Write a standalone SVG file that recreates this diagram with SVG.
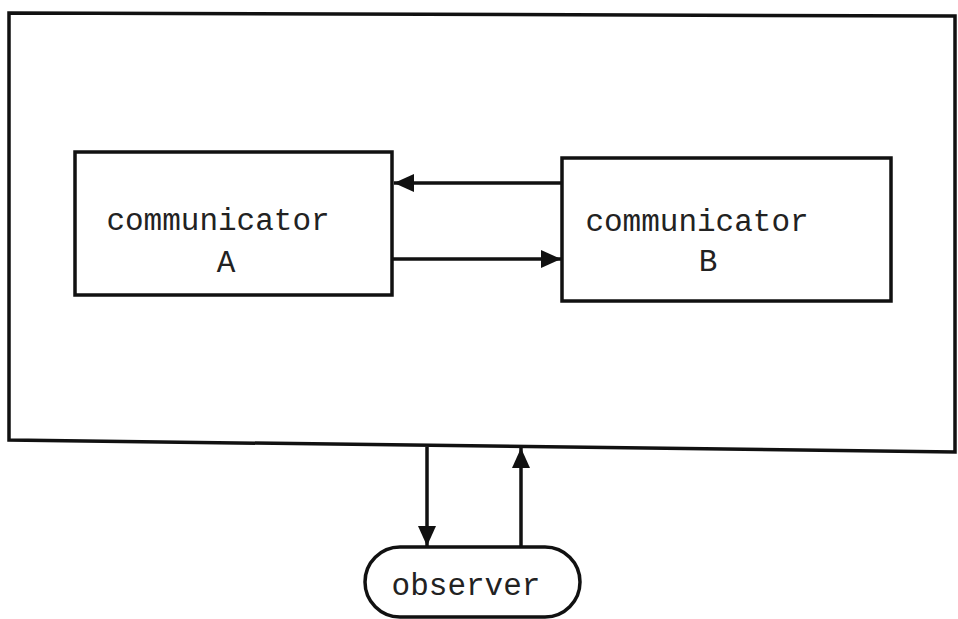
<svg xmlns="http://www.w3.org/2000/svg" width="958" height="619" viewBox="0 0 958 619">
<style>
.box{fill:none;stroke:#111;stroke-width:3.5}
.line{fill:none;stroke:#111;stroke-width:3.5}
.t{font-family:"Liberation Mono","DejaVu Sans Mono",monospace;font-size:31px;fill:#222}
</style>
<defs>
<marker id="ah" markerUnits="userSpaceOnUse" markerWidth="22" markerHeight="20" refX="20" refY="10" orient="auto">
<path d="M0,1 L20,10 L0,19 Z" fill="#111"/>
</marker>
</defs>
<rect width="958" height="619" fill="#fff"/>
<g id="frame">
<path class="box" d="M9,13 L955,16 L955,452 L9,440 Z"/>
</g>
<g id="commA">
<rect class="box" x="75" y="152" width="317" height="143"/>
<text class="t" x="218" y="230" text-anchor="middle">communicator</text>
<text class="t" x="226" y="272" text-anchor="middle">A</text>
</g>
<g id="commB">
<rect class="box" x="562" y="158" width="329" height="143"/>
<text class="t" x="697" y="231" text-anchor="middle">communicator</text>
<text class="t" x="708" y="271" text-anchor="middle">B</text>
</g>
<g id="observer">
<rect class="box" x="365" y="547" width="215" height="70" rx="35"/>
<text class="t" x="466" y="595" text-anchor="middle">observer</text>
</g>
<g id="connectors">
<line class="line" x1="562" y1="183" x2="394" y2="183" marker-end="url(#ah)"/>
<line class="line" x1="392" y1="259" x2="561" y2="259" marker-end="url(#ah)"/>
<line class="line" x1="427" y1="447" x2="427" y2="546" marker-end="url(#ah)"/>
<line class="line" x1="521" y1="547" x2="521" y2="448" marker-end="url(#ah)"/>
</g>
</svg>
